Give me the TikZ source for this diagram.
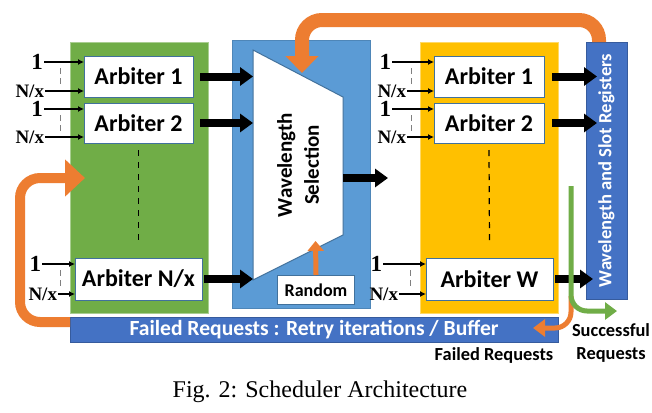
\documentclass[tikz,border=0pt]{standalone}
\usepackage{fontspec}
\setmainfont{Liberation Serif}
\newfontfamily\carl{Carlito}
\usetikzlibrary{arrows.meta,calc}
\definecolor{grnbox}{HTML}{70AD47}
\definecolor{selblue}{HTML}{5B9BD5}
\definecolor{regblue}{HTML}{4472C4}
\definecolor{edgeblue}{HTML}{41719C}
\definecolor{ylwbox}{HTML}{FFC000}
\definecolor{orng}{HTML}{ED7D31}
\tikzset{
  panel/.style={anchor=north west, inner sep=0pt, outer sep=0pt, line width=0.5pt},
  arbiter/.style={draw=edgeblue, fill=white, line width=0.5pt, inner sep=0pt, outer sep=0pt,
    anchor=north west, font=\carl\bfseries\fontsize{12}{14}\selectfont},
  inlbl/.style={inner sep=0.3pt, anchor=east, font=\bfseries\fontsize{9.5}{12}\selectfont},
  inarr/.style={-{Latex[length=3pt,width=3pt]}, line width=0.6pt},
  fatarr/.style={-{Triangle[length=6.5pt,width=9pt]}, line width=4pt},
  retryarr/.style={draw=orng, rounded corners=10pt},
  thinarr/.style={line width=2.5pt, rounded corners=8pt, -{Triangle[length=6pt,width=8.5pt]}},
  lbl/.style={font=\carl\bfseries\fontsize{9.2}{11.5}\selectfont},
}
\begin{document}
\begin{tikzpicture}[x=0.5pt, y=-0.5pt]
\useasboundingbox[fill=white] (0,0) rectangle (652,412);
% panels
\node[panel, fill=grnbox, draw=grnbox!60!white, minimum width=69pt, minimum height=135.5pt] (grp) at (70,42) {};
\node[panel, fill=selblue, draw=edgeblue!50!selblue, minimum width=69pt, minimum height=134pt] (sel) at (232,40) {};
\node[panel, fill=ylwbox, draw=ylwbox!60!white, minimum width=69pt, minimum height=135.5pt] (ylw) at (420,42) {};
\node[panel, fill=regblue, draw=regblue!80!black, minimum width=20.5pt, minimum height=128.5pt] (regs) at (586,42) {};
\node[rotate=90, text=white, font=\carl\bfseries\fontsize{9.3}{11}\selectfont] (regtxt) at (regs.center) {Wavelength and Slot Registers};
\node[panel, fill=regblue, draw=regblue!80!black, minimum width=244pt, minimum height=12.5pt] (fail) at (70,317) {};
\node[text=white, font=\carl\bfseries\fontsize{10.8}{12}\selectfont] (failtxt) at (fail.center) {Failed Requests : Retry iterations / Buffer};

% wavelength selection
\coordinate (tzA) at (253,50);
\coordinate (tzB) at (343,97);
\coordinate (tzC) at (343,235);
\coordinate (tzD) at (253,280);
\draw[fill=white, draw=edgeblue, line width=0.5pt] (tzA) -- (tzB) -- (tzC) -- (tzD) -- cycle;
\node[rotate=90, align=center, font=\carl\bfseries\fontsize{10.5}{13.5}\selectfont] (seltxt) at (298,165) {Wavelength\\Selection};
\node[draw=edgeblue, fill=white, inner sep=0pt, line width=0.5pt, minimum width=38.5pt, minimum height=14.5pt,
  anchor=north west, font=\carl\bfseries\fontsize{9}{11}\selectfont] (rand) at (277,275) {Random};
\coordinate (randtip) at (315.5,241);
\draw[orng, line width=2.5pt, -{Triangle[length=5pt,width=8pt]}] (rand.north) -- (randtip);

% arbiters
\node[arbiter, minimum width=54.5pt, minimum height=20.5pt] (arbL1) at (84,56) {Arbiter 1};
\node[arbiter, minimum width=54.5pt, minimum height=20pt] (arbL2) at (84,103) {Arbiter 2};
\node[arbiter, minimum width=63.5pt, minimum height=21pt] (arbLN) at (75,258) {Arbiter N/x};
\node[arbiter, minimum width=55pt, minimum height=20.5pt] (arbR1) at (434,56) {Arbiter 1};
\node[arbiter, minimum width=55pt, minimum height=20pt] (arbR2) at (434,103) {Arbiter 2};
\node[arbiter, minimum width=63.5pt, minimum height=21pt] (arbRW) at (426,258) {Arbiter W};
\draw[dashed, line width=0.6pt] ($(arbL2.south)+(0,7)$) -- ($(arbLN.north)+(0,-13)$);
\draw[dashed, line width=0.6pt] ($(arbR2.south)+(0,7)$) -- ($(arbRW.north)+(0,-13)$);

\foreach \a/\g/\h/\d in {arbL1/40/39/24, arbL2/40/39/24, arbLN/33/17/15,
                         arbR1/42/27/23, arbR2/42/27/23, arbRW/43/27/16} {
  \node[inlbl, font=\bfseries\fontsize{11.5}{12}\selectfont] (\a one) at ($(\a.north west)+(-\g,6)$) {1};
  \node[inlbl] (\a nx) at ($(\a.south west)+(-\h,-6)$) {N/x};
  \draw[inarr] (\a one) -- (\a one -| \a.west);
  \draw[inarr] (\a nx) -- (\a nx -| \a.west);
  \draw[gray, densely dashed, line width=0.4pt] ($(\a.north west)+(-\d,12)$) -- ($(\a.south west)+(-\d,-12)$);
}

% fat arrows
\draw[fatarr] ($(arbL1.east)+(7,0)$) -- (arbL1.east -| tzA);
\draw[fatarr] ($(arbL2.east)+(7,0)$) -- (arbL2.east -| tzA);
\draw[fatarr] ($(arbLN.east)+(2,0)$) -- (arbLN.east -| tzA);
\coordinate (selout) at (388,178);
\draw[fatarr] (tzB |- selout) -- (selout);
\draw[fatarr, shorten >=-5.5pt] ($(arbR1.east)+(8,0)$) -- (arbR1.east -| regs.west);
\draw[fatarr, shorten >=-5.5pt] ($(arbR2.east)+(8,0)$) -- (arbR2.east -| regs.west);
\draw[fatarr, shorten >=-3.5pt] ($(arbRW.east)+(2,0)$) -- (arbRW.east -| regs.west);

% retry loops
\coordinate (seltop) at (302,73);
\draw[retryarr, line width=7pt, -{Triangle[length=8.5pt,width=16pt]}]
  ($(regs.north)+(-7.5,0)$) |- ($(seltop)+(0,-53)$) -- (seltop);
\coordinate (grpin) at (85,178);
\draw[retryarr, line width=5pt, -{Triangle[length=10pt,width=18pt]}]
  ($(fail.north west)+(0,5)$) -| ($(grpin)+(-65,0)$) -- (grpin);

% results
\coordinate (okstart) at (571,186);
\coordinate (split) at (571,296);
\coordinate (okend) at (617,311);
\coordinate (failend) at (533,328);
\draw[thinarr, orng] (split) |- (failend);
\draw[thinarr, grnbox] (okstart) |- (okend);
\node[lbl] (failed) at (494,355) {Failed Requests};
\node[lbl, align=center] (success) at (611,343) {Successful\\Requests};

\node[anchor=base, font=\fontsize{12}{14}\selectfont] (cap) at (320,397) {Fig. 2: Scheduler Architecture};
\end{tikzpicture}
\end{document}
